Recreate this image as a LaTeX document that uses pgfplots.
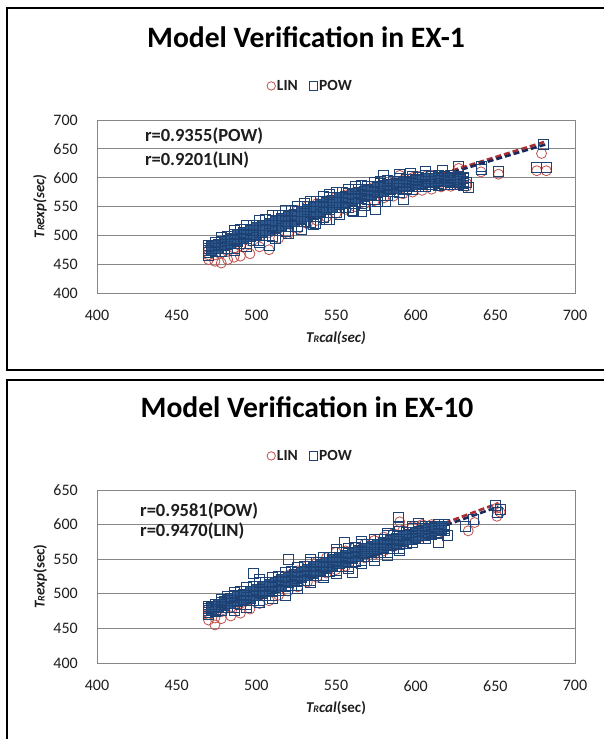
\documentclass[border=0pt]{standalone}
\usepackage{pgfplots}
\pgfplotsset{compat=1.18}
\usepackage{fontspec}
\setmainfont{Carlito}
\definecolor{linred}{RGB}{192,80,77}
\definecolor{pownavy}{RGB}{31,66,116}
\definecolor{powfill}{RGB}{44,90,145}
\definecolor{linline}{RGB}{170,45,50}
\definecolor{powline}{RGB}{28,40,90}
\definecolor{gridgray}{RGB}{134,134,134}
\definecolor{txt}{RGB}{30,30,30}
\newcommand{\fs}[1]{\fontsize{#1}{#1}\selectfont}
\newcommand{\smR}{{\fontsize{10}{10}\selectfont R}}
\pgfplotsset{
  panel/.style={
    scale only axis, width=478pt, height=173pt, anchor=south west,
    xmin=400, xmax=700, xtick={400,450,...,700},
    axis line style={gridgray, line width=0.8pt},
    ymajorgrids, grid style={gridgray, line width=0.8pt},
    major tick length=0pt,
    tick label style={font=\fs{16}, text=txt, inner sep=0pt},
    /pgf/number format/assume math mode=true,
    xticklabel style={anchor=north, yshift=-17pt},
    yticklabel style={anchor=east, xshift=-19pt},
    x label style={at={(axis description cs:0.5,-0.26)}, anchor=center, font=\fs{15}\bfseries, inner sep=0pt, text=txt},
    y label style={at={(axis description cs:-0.119,0.5)}, anchor=center, font=\fs{15}\bfseries, inner sep=0pt, text=txt},
    legend style={at={(axis description cs:0.446,1.197)}, anchor=center, draw=none, fill=none,
      legend columns=2, font=\fs{15.5}\bfseries, inner sep=0pt, text=txt,
      nodes={inner sep=1.5pt},
      /tikz/every even column/.append style={column sep=10pt}},
    legend image code/.code={\draw[#1, mark size=4.2pt] plot coordinates {(0pt,0pt)};},
  },
  linmk/.style={only marks, mark=o, mark size=5pt, mark options={draw=linred, line width=0.8pt}},
  powmk/.style={only marks, mark=square, mark size=5pt, mark options={draw=pownavy, line width=0.8pt}},
  powcore/.style={only marks, mark=square*, mark size=5pt, mark options={draw=pownavy, fill=powfill, line width=0.8pt}, forget plot},
  linln/.style={linline, line width=2.6pt, dash pattern=on 6pt off 3pt, forget plot},
  powln/.style={powline, line width=2.6pt, dash pattern=on 6pt off 3pt, forget plot},
}
\begin{document}
\begin{tikzpicture}
\useasboundingbox (0pt,0pt) rectangle (604pt,739pt);
\fill[white] (0pt,0pt) rectangle (604pt,739pt);
\draw[line width=2pt] (7pt,369pt) rectangle (620pt,731pt);
\draw[line width=2pt] (7pt,-20pt) rectangle (620pt,359pt);
\node[anchor=base, font=\fs{29.6}\bfseries] at (306pt,691pt) {Model Verification in EX-1};
\node[anchor=base, font=\fs{29.6}\bfseries] at (307pt,321pt) {Model Verification in EX-10};
% ---------------- EX-1 ----------------
\begin{axis}[panel, at={(97pt,446pt)},
  ymin=400, ymax=700, ytick={400,450,...,700},
  xlabel={\itshape T\smR cal(sec)}, ylabel={\itshape T\smR exp(sec)}]
\addplot[linmk] coordinates {
(470,458) (470,466) (470,474) (474,455) (474,466) (478,452) (478,470) (478,480)
(482,458) (482,472) (482,488) (486,462) (486,478) (486,492) (490,464) (490,482) (490,497)
(496,468) (496,490) (496,505) (502,480) (502,498) (502,515) (508,475) (508,505) (508,520)
(514,495) (514,512) (514,528) (520,503) (520,520) (520,535) (526,512) (526,528) (526,543)
(532,520) (532,535) (532,550) (538,526) (538,542) (538,555) (544,532) (544,548) (544,560)
(550,538) (550,552) (550,566) (556,545) (556,558) (556,570) (562,550) (562,563) (562,575)
(568,555) (568,568) (568,580) (574,560) (574,572) (574,584) (580,565) (580,576) (580,588)
(586,568) (586,580) (586,592) (592,572) (592,583) (592,596) (598,575) (598,586) (598,600)
(604,578) (604,590) (604,604) (610,580) (610,591) (610,604) (616,584) (616,592) (616,600)
(622,585) (622,593) (622,600) (628,588) (628,594) (627,616) (632,585) (632,590)
(641,610) (652,606) (676,612) (682,612) (679,642) (590,604)
};
\addlegendentry{LIN}
\addplot[powcore] coordinates {
(472,474) (472,480) (476,478) (476,485) (480,482) (480,490) (484,486) (484,495)
(488,490) (488,501) (492,495) (492,505) (496,498) (496,509) (500,501) (500,513)
(504,505) (504,517) (508,509) (508,521) (512,513) (512,525) (516,517) (516,529)
(520,521) (520,533) (524,525) (524,537) (528,529) (528,541) (532,533) (532,545)
(536,537) (536,549) (540,541) (540,553) (544,545) (544,557) (548,549) (548,561)
(552,553) (552,565) (556,557) (556,568) (560,561) (560,571) (564,564) (564,575)
(568,568) (568,577) (572,571) (572,580) (576,574) (576,583) (580,577) (580,585)
(584,579) (584,588) (588,582) (588,590) (592,584) (592,592) (596,586) (596,594)
(600,588) (600,595) (604,590) (604,597) (608,591) (608,598) (612,592) (612,598)
(616,593) (616,599) (620,593) (620,599) (624,593) (624,598) (628,592) (628,597)
};
\addplot[powmk] coordinates {
(470,466) (470,470) (470,474) (470,478) (470,482)
(474,472) (474,477) (474,482) (474,487)
(478,472) (478,478) (478,484) (478,490) (478,496)
(482,478) (482,485) (482,492) (482,499)
(486,478) (486,486) (486,493) (486,501) (486,508)
(490,486) (490,494) (490,502) (490,510)
(494,486) (494,494) (494,502) (494,510) (494,518)
(498,492) (498,501) (498,509) (498,518)
(502,492) (502,500) (502,509) (502,518) (502,526)
(506,500) (506,508) (506,518) (506,527)
(510,499) (510,508) (510,517) (510,526) (510,535)
(514,508) (514,517) (514,526) (514,535)
(518,507) (518,516) (518,525) (518,534) (518,543)
(522,516) (522,525) (522,534) (522,543)
(526,515) (526,524) (526,533) (526,542) (526,551)
(530,524) (530,533) (530,542) (530,551)
(534,523) (534,532) (534,541) (534,550) (534,559)
(538,532) (538,541) (538,550) (538,559)
(542,531) (542,540) (542,549) (542,558) (542,567)
(546,540) (546,549) (546,557) (546,566)
(550,540) (550,549) (550,557) (550,566) (550,574)
(554,548) (554,557) (554,565) (554,574)
(558,548) (558,556) (558,564) (558,572) (558,580)
(562,556) (562,564) (562,572) (562,580)
(566,556) (566,564) (566,571) (566,579) (566,586)
(570,563) (570,570) (570,578) (570,585)
(574,563) (574,570) (574,577) (574,584) (574,591)
(578,570) (578,577) (578,583) (578,590)
(582,569) (582,576) (582,582) (582,589) (582,595)
(586,576) (586,582) (586,588) (586,594)
(590,575) (590,581) (590,587) (590,593) (590,599)
(594,581) (594,586) (594,592) (594,597)
(598,580) (598,585) (598,591) (598,597) (598,602)
(602,584) (602,589) (602,595) (602,600)
(606,584) (606,589) (606,594) (606,599) (606,604)
(610,588) (610,593) (610,598) (610,603)
(614,586) (614,590) (614,595) (614,600) (614,604)
(618,589) (618,594) (618,598) (618,603)
(622,588) (622,592) (622,596) (622,600) (622,604)
(626,589) (626,593) (626,597) (626,601)
(630,587) (630,590) (630,594) (630,598) (630,601)
(486,474) (494,481) (502,487) (512,495) (520,503) (528,511) (536,519) (544,527)
(552,536) (560,544) (568,552) (576,559) (530,556) (546,571) (562,584) (578,594)
(633,583) (632,592) (627,620) (617,612) (606,610) (597,607) (590,606) (580,604)
(592,562) (575,545) (566,542) (556,548) (546,527) (537,521) (508,483)
(641,615) (641,620) (652,610) (676,618) (682,617) (680,657) (561,541) (581,558)
};
\addlegendentry{POW}
\addplot[linln] coordinates {(472,483) (682,663)};
\addplot[powln] coordinates {(472,485) (682,658)};
\node[anchor=west, inner sep=0pt, font=\fs{18.5}\bfseries, text=txt] at (rel axis cs:0.1,0.908) {r=0.9355(POW)};
\node[anchor=west, inner sep=0pt, font=\fs{18.5}\bfseries, text=txt] at (rel axis cs:0.1,0.769) {r=0.9201(LIN)};
\end{axis}
% ---------------- EX-10 ----------------
\begin{axis}[panel, at={(97pt,76pt)},
  ymin=400, ymax=650, ytick={400,450,...,650},
  xlabel={{\itshape T\smR cal}(sec)}, ylabel={{\itshape T\smR exp}(sec)}]
\addplot[linmk] coordinates {
(470,462) (470,470) (470,478) (474,455) (474,465) (474,476) (478,464) (478,474) (478,484)
(484,468) (484,480) (484,490) (490,472) (490,486) (490,496) (496,478) (496,492) (496,502)
(502,486) (502,498) (502,508) (508,490) (508,504) (508,514) (514,498) (514,510) (514,520)
(520,504) (520,516) (520,527) (526,510) (526,522) (526,533) (532,517) (532,528) (532,540)
(538,524) (538,534) (538,546) (544,530) (544,540) (544,552) (550,535) (550,546) (550,560)
(556,540) (556,551) (556,562) (562,546) (562,556) (562,567) (568,552) (568,562) (568,572)
(574,557) (574,567) (574,577) (580,562) (580,572) (580,582) (586,568) (586,577) (586,587)
(592,573) (592,582) (592,592) (598,578) (598,587) (598,597) (604,583) (604,592) (604,600)
(610,586) (610,594) (610,600) (616,590) (616,596)
(590,604) (604,598) (633,591) (637,603) (651,612) (653,618) (651,624)
};
\addlegendentry{LIN}
\addplot[powcore] coordinates {
(472,476) (472,480) (476,480) (476,485) (480,483) (480,489) (484,486) (484,493)
(488,489) (488,496) (492,492) (492,499) (496,494) (496,503) (500,498) (500,506)
(504,501) (504,510) (508,505) (508,513) (512,509) (512,517) (516,512) (516,521)
(520,516) (520,524) (524,519) (524,528) (528,523) (528,531) (532,527) (532,535)
(536,530) (536,539) (540,534) (540,542) (544,537) (544,546) (548,541) (548,549)
(552,544) (552,553) (556,547) (556,556) (560,551) (560,559) (564,554) (564,563)
(568,558) (568,565) (572,561) (572,568) (576,564) (576,571) (580,567) (580,574)
(584,570) (584,577) (588,573) (588,580) (592,576) (592,583) (596,579) (596,586)
(600,582) (600,589) (604,585) (604,591) (608,588) (608,593) (612,591) (612,596)
(616,593) (616,597)
};
\addplot[powmk] coordinates {
(470,470) (470,473) (470,476) (470,479) (470,482)
(474,475) (474,478) (474,482) (474,485)
(478,476) (478,480) (478,484) (478,488) (478,492)
(482,480) (482,486) (482,491) (482,496)
(486,480) (486,486) (486,491) (486,497) (486,502)
(490,485) (490,491) (490,497) (490,503)
(494,485) (494,491) (494,497) (494,503) (494,509)
(498,490) (498,497) (498,503) (498,510)
(502,491) (502,497) (502,504) (502,510) (502,517)
(506,497) (506,504) (506,510) (506,517)
(510,498) (510,504) (510,511) (510,517) (510,524)
(514,505) (514,512) (514,518) (514,525)
(518,505) (518,511) (518,518) (518,524) (518,531)
(522,512) (522,519) (522,525) (522,532)
(526,512) (526,518) (526,525) (526,531) (526,538)
(530,519) (530,526) (530,532) (530,539)
(534,520) (534,526) (534,533) (534,539) (534,546)
(538,526) (538,533) (538,539) (538,546)
(542,527) (542,533) (542,540) (542,546) (542,553)
(546,533) (546,540) (546,546) (546,553)
(550,534) (550,540) (550,547) (550,553) (550,560)
(554,540) (554,547) (554,553) (554,560)
(558,540) (558,546) (558,553) (558,559) (558,566)
(562,547) (562,554) (562,560) (562,567)
(566,548) (566,554) (566,560) (566,566) (566,572)
(570,554) (570,560) (570,566) (570,572)
(574,554) (574,560) (574,566) (574,572) (574,578)
(578,560) (578,566) (578,572) (578,578)
(582,560) (582,566) (582,572) (582,578) (582,584)
(586,566) (586,572) (586,578) (586,584)
(590,566) (590,572) (590,578) (590,584) (590,590)
(594,573) (594,578) (594,584) (594,589)
(598,574) (598,579) (598,584) (598,589) (598,594)
(602,580) (602,585) (602,590) (602,595)
(606,580) (606,585) (606,589) (606,594) (606,598)
(610,586) (610,590) (610,594) (610,598)
(614,587) (614,591) (614,594) (614,598) (614,601)
(618,592) (618,595) (618,598) (618,601)
(486,476) (494,481) (502,487) (510,494) (526,508) (534,516) (542,523) (550,530)
(558,536) (566,544) (582,556) (590,562) (502,521) (534,550) (550,564) (566,576)
(582,588) (598,598)
(498,530) (518,498) (520,549) (555,575) (560,531) (589,611) (589,597) (602,602)
(614,575) (631,598) (636,607) (650,628) (651,618) (653,622) (620,585) (574,548)
};
\addlegendentry{POW}
\addplot[linln] coordinates {(470,476) (652,631)};
\addplot[powln] coordinates {(470,478) (652,626)};
\node[anchor=west, inner sep=0pt, font=\fs{18.5}\bfseries, text=txt] at (rel axis cs:0.09,0.879) {r=0.9581(POW)};
\node[anchor=west, inner sep=0pt, font=\fs{18.5}\bfseries, text=txt] at (rel axis cs:0.09,0.763) {r=0.9470(LIN)};
\end{axis}
\end{tikzpicture}
\end{document}
